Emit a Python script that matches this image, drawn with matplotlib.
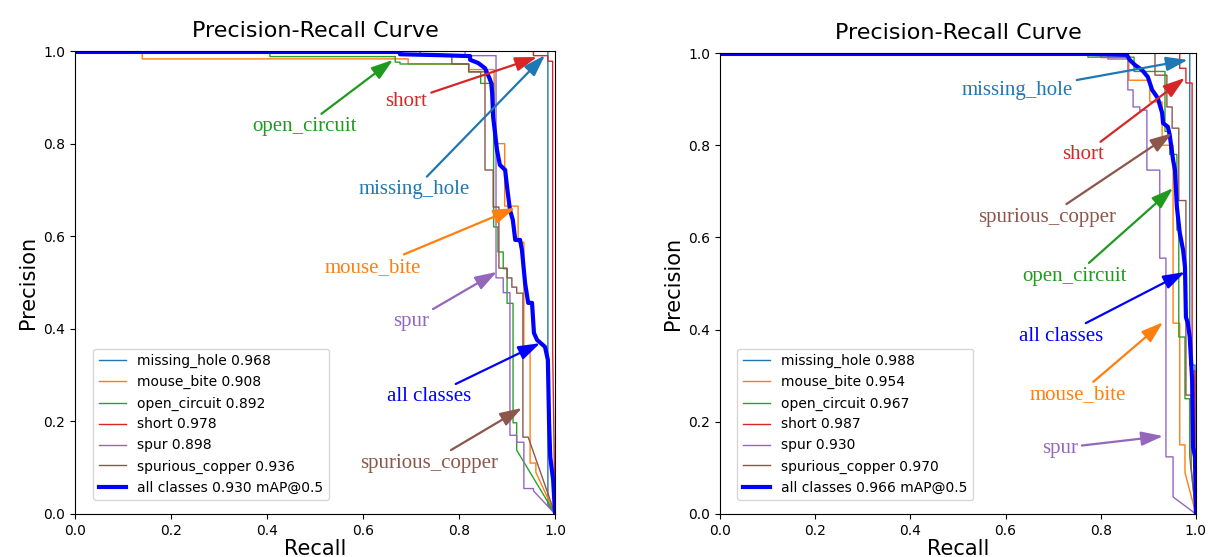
"""Precision-recall curves for PCB defect detection, two models side by side."""

import matplotlib

matplotlib.use("Agg")

import matplotlib.pyplot as plt


CLASS_NAMES = ["missing_hole", "mouse_bite", "open_circuit", "short", "spur", "spurious_copper"]
CLASS_COLORS = ["#1f77b4", "#ff7f0e", "#2ca02c", "#d62728", "#9467bd", "#8c564b"]
NOTE_COLORS = ["#1f77b4", "#ff7f0e", "#1f9a1f", "#d62728", "#9467bd", "#8c564b"]

# ---- left model ----
left_ap = [0.968, 0.908, 0.892, 0.978, 0.898, 0.936]
left_map = 0.930

left_missing_hole_r = [0, 0.985, 0.985, 1.0]
left_missing_hole_p = [1, 1, 0.02, 0.0]

left_mouse_bite_r = [0, 0.14, 0.14, 0.694, 0.694, 0.82, 0.82, 0.873, 0.873, 0.895, 0.895,
                     0.923, 0.923, 0.935, 0.935, 0.948, 0.948, 0.96, 0.96, 1.0]
left_mouse_bite_p = [1, 1, 0.983, 0.983, 0.972, 0.972, 0.96, 0.96, 0.80, 0.80, 0.665,
                     0.665, 0.587, 0.587, 0.35, 0.35, 0.11, 0.11, 0.09, 0.0]

left_open_circuit_r = [0, 0.406, 0.406, 0.667, 0.667, 0.677, 0.677, 0.82, 0.82, 0.845, 0.845,
                       0.872, 0.872, 0.881, 0.881, 0.892, 0.892, 0.9, 0.9, 0.9125, 0.9125,
                       0.92, 0.92, 1.0]
left_open_circuit_p = [1, 1, 0.988, 0.988, 0.976, 0.976, 0.972, 0.972, 0.955, 0.955, 0.93,
                       0.93, 0.62, 0.62, 0.566, 0.566, 0.53, 0.53, 0.455, 0.455, 0.197,
                       0.197, 0.138, 0.0]

left_short_r = [0, 0.955, 0.955, 0.985, 0.985, 0.995, 0.995, 1.0]
left_short_p = [1, 1, 0.99, 0.99, 0.978, 0.978, 0.35, 0.0]

left_spur_r = [0, 0.8125, 0.8125, 0.877, 0.877, 0.892, 0.892, 0.906, 0.906, 0.92, 0.92,
               0.935, 0.935, 0.955, 0.955, 1.0]
left_spur_p = [1, 1, 0.99, 0.99, 0.51, 0.51, 0.478, 0.478, 0.17, 0.17, 0.155,
               0.155, 0.055, 0.055, 0.05, 0.0]

left_spurious_copper_r = [0, 0.719, 0.719, 0.785, 0.785, 0.82, 0.82, 0.854, 0.854, 0.871, 0.871,
                          0.883, 0.883, 0.9, 0.9, 0.91, 0.91, 0.92, 0.92, 0.933, 0.933,
                          0.944, 1.0]
left_spurious_copper_p = [1, 1, 0.991, 0.991, 0.972, 0.972, 0.955, 0.955, 0.743, 0.743, 0.663,
                          0.663, 0.531, 0.531, 0.51, 0.51, 0.49, 0.49, 0.477, 0.477, 0.166,
                          0.166, 0.0]

left_all_r = [0, 0.677, 0.677, 0.762, 0.823, 0.823, 0.840, 0.854, 0.863, 0.867, 0.869, 0.871,
              0.875, 0.879, 0.885, 0.896, 0.900, 0.906, 0.912, 0.917, 0.927, 0.931, 0.9375,
              0.944, 0.952, 0.956, 0.9625, 0.979, 0.985, 0.9875, 0.990, 0.996, 1.0]
left_all_p = [0.998, 0.998, 0.993, 0.991, 0.989, 0.981, 0.974, 0.963, 0.942, 0.931, 0.909, 0.857,
              0.823, 0.786, 0.754, 0.743, 0.706, 0.657, 0.635, 0.592, 0.592, 0.570, 0.499,
              0.456, 0.456, 0.391, 0.376, 0.361, 0.333, 0.197, 0.123, 0.073, 0.0]

# ---- right model ----
right_ap = [0.988, 0.954, 0.967, 0.987, 0.930, 0.970]
right_map = 0.966

right_missing_hole_r = [0, 0.987, 0.987, 0.998, 0.998, 1.0]
right_missing_hole_p = [1, 1, 0.323, 0.323, 0.01, 0.0]

right_mouse_bite_r = [0, 0.80, 0.80, 0.859, 0.859, 0.903, 0.903, 0.929, 0.929, 0.952, 0.952,
                      0.966, 0.966, 0.977, 0.977, 1.0]
right_mouse_bite_p = [1, 1, 0.99, 0.99, 0.941, 0.941, 0.894, 0.894, 0.80, 0.80, 0.414,
                      0.414, 0.15, 0.15, 0.09, 0.0]

right_open_circuit_r = [0, 0.773, 0.773, 0.87, 0.87, 0.935, 0.935, 0.945, 0.945, 0.96, 0.96,
                        0.964, 0.964, 0.977, 0.977, 0.987, 0.987, 1.0]
right_open_circuit_p = [1, 1, 0.991, 0.991, 0.96, 0.96, 0.83, 0.83, 0.78, 0.78, 0.616,
                        0.616, 0.384, 0.384, 0.25, 0.25, 0.124, 0.0]

right_short_r = [0, 0.966, 0.966, 0.979, 0.979, 0.992, 0.992, 0.998, 0.998, 1.0]
right_short_p = [1, 1, 0.967, 0.967, 0.935, 0.935, 0.31, 0.31, 0.01, 0.0]

right_spur_r = [0, 0.815, 0.815, 0.857, 0.857, 0.868, 0.868, 0.882, 0.882, 0.897, 0.897,
                0.924, 0.924, 0.937, 0.937, 0.952, 0.952, 1.0]
right_spur_p = [1, 1, 0.987, 0.987, 0.92, 0.92, 0.883, 0.883, 0.876, 0.876, 0.746,
                0.746, 0.555, 0.555, 0.124, 0.124, 0.037, 0.0]

right_spurious_copper_r = [0, 0.914, 0.914, 0.939, 0.939, 0.95, 0.95, 0.964, 0.964, 0.979, 0.979,
                           0.99, 0.99, 1.0]
right_spurious_copper_p = [1, 1, 0.952, 0.952, 0.883, 0.883, 0.837, 0.837, 0.68, 0.68, 0.258,
                           0.258, 0.1, 0.0]

right_all_r = [0, 0.773, 0.855, 0.861, 0.872, 0.887, 0.899, 0.908, 0.920, 0.929, 0.931, 0.941,
               0.945, 0.952, 0.956, 0.960, 0.966, 0.973, 0.977, 0.979, 0.983, 0.987, 0.992,
               0.994, 0.998, 1.0]
right_all_p = [0.998, 0.998, 0.996, 0.985, 0.974, 0.963, 0.948, 0.920, 0.902, 0.870, 0.848, 0.840,
               0.822, 0.768, 0.746, 0.666, 0.610, 0.573, 0.536, 0.427, 0.414, 0.384, 0.291,
               0.145, 0.124, 0.0]

# annotation label, index into colours (6 = all classes), text pos, arrow tip
left_notes = [
    ("open_circuit", 2, (0.477, 0.836), (0.6625, 0.981)),
    ("short", 3, (0.690, 0.892), (0.9625, 0.987)),
    ("missing_hole", 0, (0.706, 0.700), (0.979, 0.991)),
    ("mouse_bite", 1, (0.621, 0.533), (0.917, 0.661)),
    ("spur", 4, (0.700, 0.415), (0.879, 0.523)),
    ("all classes", 6, (0.7375, 0.253), (0.969, 0.369)),
    ("spurious_copper", 5, (0.7375, 0.110), (0.931, 0.229)),
]
right_notes = [
    ("missing_hole", 0, (0.624, 0.918), (0.983, 0.985)),
    ("short", 3, (0.763, 0.779), (0.977, 0.946)),
    ("spurious_copper", 5, (0.687, 0.644), (0.950, 0.826)),
    ("open_circuit", 2, (0.744, 0.516), (0.952, 0.707)),
    ("all classes", 6, (0.716, 0.386), (0.977, 0.525)),
    ("mouse_bite", 1, (0.752, 0.258), (0.931, 0.416)),
    ("spur", 4, (0.714, 0.143), (0.931, 0.169)),
]


def draw_panel(ax, curves, ap, map_value, all_r, all_p, notes, legend_anchor):
    for (r, p), name, color, value in zip(curves, CLASS_NAMES, CLASS_COLORS, ap):
        ax.plot(r, p, color=color, linewidth=1.0, label="{} {:.3f}".format(name, value))
    ax.plot(all_r, all_p, color="blue", linewidth=3.0,
            label="all classes {:.3f} mAP@0.5".format(map_value))

    for text, idx, xytext, xy in notes:
        color = "blue" if idx == 6 else NOTE_COLORS[idx]
        ax.annotate(
            text,
            xy=xy,
            xytext=xytext,
            ha="center",
            va="center",
            color=color,
            fontsize=15,
            family="Liberation Serif",
            arrowprops=dict(arrowstyle="-|>,head_length=1.1,head_width=0.36",
                            color=color, lw=1.6, mutation_scale=12, shrinkA=1, shrinkB=0),
        )

    ax.set_xlim(0, 1)
    ax.set_ylim(0, 1)
    ax.set_xlabel("Recall", fontsize=15, labelpad=1)
    ax.set_ylabel("Precision", fontsize=15)
    ax.set_title("Precision-Recall Curve", fontsize=16, pad=10)
    ax.legend(loc="lower left", bbox_to_anchor=legend_anchor, borderaxespad=0, fontsize=10)


def main():
    fig = plt.figure(figsize=(12.08, 5.57), dpi=100)
    ax_left = fig.add_axes([0.0621, 0.0772, 0.3974, 0.8312])
    ax_right = fig.add_axes([0.5960, 0.0772, 0.3940, 0.8276])

    left_curves = [
        (left_missing_hole_r, left_missing_hole_p),
        (left_mouse_bite_r, left_mouse_bite_p),
        (left_open_circuit_r, left_open_circuit_p),
        (left_short_r, left_short_p),
        (left_spur_r, left_spur_p),
        (left_spurious_copper_r, left_spurious_copper_p),
    ]
    right_curves = [
        (right_missing_hole_r, right_missing_hole_p),
        (right_mouse_bite_r, right_mouse_bite_p),
        (right_open_circuit_r, right_open_circuit_p),
        (right_short_r, right_short_p),
        (right_spur_r, right_spur_p),
        (right_spurious_copper_r, right_spurious_copper_p),
    ]

    draw_panel(ax_left, left_curves, left_ap, left_map, left_all_r, left_all_p,
               left_notes, (18 / 480, 14 / 463))
    draw_panel(ax_right, right_curves, right_ap, right_map, right_all_r, right_all_p,
               right_notes, (17 / 476, 14 / 461))

    fig.savefig("out.png", dpi=100)
    plt.close(fig)


if __name__ == "__main__":
    main()
